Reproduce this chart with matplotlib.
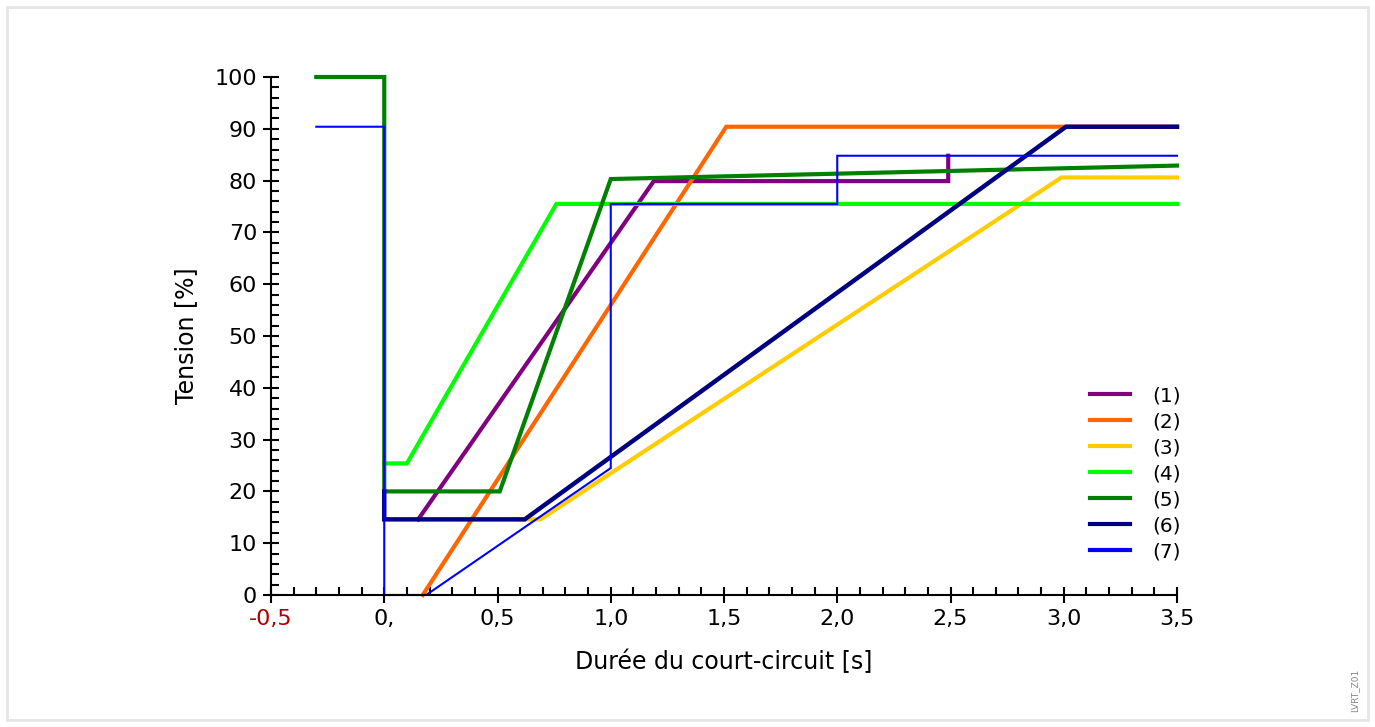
import matplotlib.pyplot as plt
from matplotlib.ticker import MultipleLocator
from matplotlib.patches import Rectangle

# curve data (time in s, voltage in %)
labels = ["(1)", "(2)", "(3)", "(4)", "(5)", "(6)", "(7)"]
colors = ["#800080", "#ff6600", "#ffcc00", "#00ff00", "#008000", "#000080", "#0000ff"]
widths = [3, 3, 3, 3, 3, 3.2, 1.5]

t1 = [0.15, 1.19, 2.49, 2.49]
u1 = [14.6, 79.9, 79.9, 84.8]
t2 = [0.17, 1.51, 3.5]
u2 = [0, 90.4, 90.4]
t3 = [0.6, 0.69, 2.99, 3.5]
u3 = [14.6, 14.6, 80.6, 80.6]
t4 = [0, 0.1, 0.76, 3.5]
u4 = [25.4, 25.4, 75.5, 75.5]
t5 = [-0.3, 0, 0, 0.51, 1.0, 3.5]
u5 = [100, 100, 20, 20, 80.3, 82.9]
t6 = [0, 0, 0.62, 3.01, 3.5]
u6 = [20, 14.6, 14.6, 90.4, 90.4]
t7 = [-0.3, 0, 0, 0.185, 1.0, 1.0, 2.0, 2.0, 3.5]
u7 = [90.4, 90.4, 0, 0, 24.5, 75.5, 75.5, 84.8, 84.8]

xs = [t1, t2, t3, t4, t5, t6, t7]
ys = [u1, u2, u3, u4, u5, u6, u7]

xticks = [-0.5, 0, 0.5, 1.0, 1.5, 2.0, 2.5, 3.0, 3.5]
xticklabels = ["-0,5", "0,", "0,5", "1,0", "1,5", "2,0", "2,5", "3,0", "3,5"]

fig = plt.figure(figsize=(13.75, 7.27), dpi=100)
fig.patches.append(Rectangle((7 / 1375, 7 / 727), 1361 / 1375, 713 / 727,
                             transform=fig.transFigure, fill=False,
                             edgecolor="#e6e6e6", lw=2))
ax = fig.add_axes([271 / 1375, 132 / 727, 906 / 1375, 518 / 727])

for x, y, c, w, lab in zip(xs, ys, colors, widths, labels):
    ax.plot(x, y, color=c, lw=w, label=lab, clip_on=False, solid_joinstyle="miter")

ax.set_xlim(-0.5, 3.5)
ax.set_ylim(0, 100)
ax.spines["top"].set_visible(False)
ax.spines["right"].set_visible(False)
ax.spines["left"].set_linewidth(1.5)
ax.spines["bottom"].set_linewidth(1.5)

ax.set_xticks(xticks)
ax.set_xticklabels(xticklabels)
ax.get_xticklabels()[0].set_color("#b00000")
ax.xaxis.set_minor_locator(MultipleLocator(0.1))
ax.yaxis.set_major_locator(MultipleLocator(10))
ax.yaxis.set_minor_locator(MultipleLocator(2))
ax.tick_params(which="major", direction="inout", length=12, width=1.5, labelsize=16, pad=4)
ax.tick_params(which="minor", direction="in", length=6, width=1.5)

ax.set_xlabel("Durée du court-circuit [s]", fontsize=17, labelpad=15)
ax.set_ylabel("Tension [%]", fontsize=17, labelpad=12)

leg = ax.legend(loc="lower right", bbox_to_anchor=(1.024, 0.03), frameon=False,
                fontsize=14.5, handlelength=2.0, handletextpad=1.1, labelspacing=0.35)
for h in leg.get_lines():
    h.set_linewidth(3)

fig.text(1355 / 1375, 37 / 727, "LVRT_Z01", rotation=90, fontsize=6.5,
         color="#888888", ha="center", va="center")

fig.savefig("out.png", dpi=100)
